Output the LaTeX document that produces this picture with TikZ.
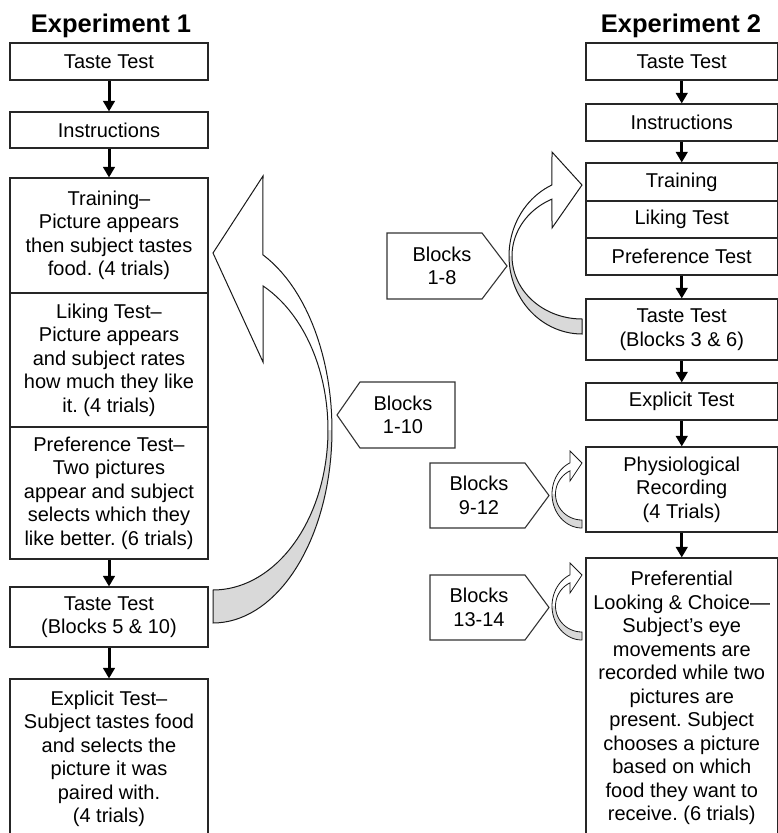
\documentclass[tikz,border=0pt]{standalone}
\usepackage{fontspec}
\setmainfont{Liberation Sans}
\usetikzlibrary{arrows.meta}
\newcommand\boxfont{\fontsize{20}{23.5}\selectfont}
\newcommand\titlefont{\fontsize{25.5}{30}\selectfont\bfseries}
\frenchspacing
\begin{document}
\begin{tikzpicture}[x=1pt,y=-1pt,
  box/.style={draw=black!85,line width=1.1pt,fill=white,inner sep=0pt,align=center,font=\boxfont},
  lbox/.style={box,minimum width=198pt},
  rbox/.style={box,minimum width=191.5pt},
  flow/.style={line width=3pt,-{Triangle[width=11.5pt,length=10.5pt]}},
  outl/.style={draw=black!90,line width=1pt,line join=miter},
  backfill/.style={fill=black!15},
  frontfill/.style={fill=white},
  tag/.style={draw=black!80,line width=1.1pt,fill=white},
  tagtext/.style={inner sep=0pt,align=center,font=\boxfont},
  title/.style={inner sep=0pt,font=\titlefont,anchor=base}]
\useasboundingbox (0,0) rectangle (778,833);
\fill[white] (0,0) rectangle (778,833);

\node[title] (t1) at (111,32) {Experiment 1};
\node[title] (t2) at (681,32) {Experiment 2};

% left column
\node[lbox,minimum height=37pt] (l1) at (109,61.5) {Taste Test};
\node[lbox,minimum height=36pt] (l2) at (109,130) {Instructions};
\node[lbox,minimum height=115pt] (l3) at (109,235.5) {Training–\\Picture appears\\then subject tastes\\food. (4 trials)};
\node[lbox,minimum height=134pt] (l4) at (109,360) {Liking Test–\\Picture appears\\and subject rates\\how much they like\\it. (4 trials)};
\node[lbox,minimum height=132pt] (l5) at (109,493) {Preference Test–\\Two pictures\\appear and subject\\selects which they\\like better. (6 trials)};
\node[lbox,minimum height=60pt] (l6) at (109,617) {Taste Test\\(Blocks 5 \& 10)};
\node[lbox,minimum height=160pt] (l7) at (109,759) {Explicit Test–\\Subject tastes food\\and selects the\\picture it was\\paired with.\\(4 trials)};

% right column
\node[rbox,minimum height=37pt] (r1) at (681.75,61.5) {Taste Test};
\node[rbox,minimum height=37pt] (r2) at (681.75,122.5) {Instructions};
\node[rbox,minimum height=38pt] (r3) at (681.75,182) {Training};
\node[rbox,minimum height=37pt] (r4) at (681.75,219.5) {Liking Test};
\node[rbox,minimum height=37pt] (r5) at (681.75,256.5) {Preference Test};
\node[rbox,minimum height=61pt] (r6) at (681.75,329.5) {Taste Test\\(Blocks 3 \& 6)};
\node[rbox,minimum height=37pt] (r7) at (681.75,401.5) {Explicit Test};
\node[rbox,minimum height=85pt] (r8) at (681.75,489.5) {Physiological\\Recording\\(4 Trials)};
\node[rbox,minimum height=280pt] (r9) at (681.75,698) {Preferential\\Looking \& Choice—\\Subject’s eye\\movements are\\recorded while two\\pictures are\\present. Subject\\chooses a picture\\based on which\\food they want to\\receive. (6 trials)};

\foreach \a/\b in {l1/l2,l2/l3,l5/l6,l6/l7,r1/r2,r2/r3,r5/r6,r6/r7,r7/r8,r8/r9}
  \draw[flow] (\a) -- (\b);

% big curved arrow (left)
\fill[backfill] plot[domain=0:90,samples=40] ({213+119*cos(\x)},{430+193*sin(\x)})
  -- plot[domain=90:0,samples=40] ({213+115*cos(\x)},{430+160*sin(\x)}) -- cycle;
\fill[frontfill] plot[domain=0:-65.2,samples=40] ({213+119*cos(\x)},{430+193*sin(\x)})
  -- (263,176) -- (213,253) -- (263,362)
  -- plot[domain=-64.2:0,samples=40] ({213+115*cos(\x)},{430+160*sin(\x)}) -- cycle;
\draw[outl] plot[domain=90:-65.2,samples=60] ({213+119*cos(\x)},{430+193*sin(\x)})
  -- (263,176) -- (213,253) -- (263,362)
  -- plot[domain=-64.2:90,samples=60] ({213+115*cos(\x)},{430+160*sin(\x)}) -- cycle;

% curved arrow blocks 1-8
\fill[backfill] plot[domain=90:180,samples=30] ({582+73*cos(\x)},{256+78*sin(\x)})
  -- plot[domain=180:90,samples=30] ({582+70*cos(\x)},{256+63*sin(\x)}) -- cycle;
\fill[frontfill] plot[domain=180:245.7,samples=30] ({582+73*cos(\x)},{256+78*sin(\x)})
  -- (552,152) -- (582,185) -- (552,228)
  -- plot[domain=244.6:180,samples=30] ({582+70*cos(\x)},{256+63*sin(\x)}) -- cycle;
\draw[outl] plot[domain=90:245.7,samples=50] ({582+73*cos(\x)},{256+78*sin(\x)})
  -- (552,152) -- (582,185) -- (552,228)
  -- plot[domain=244.6:90,samples=50] ({582+70*cos(\x)},{256+63*sin(\x)}) -- cycle;

% small curved arrows
\foreach \cy in {494,606}{
  \fill[backfill] plot[domain=90:180,samples=20] ({582+30*cos(\x)},{\cy+34*sin(\x)})
    -- plot[domain=180:90,samples=20] ({582+26.5*cos(\x)},{\cy+26*sin(\x)}) -- cycle;
  \fill[frontfill] plot[domain=180:246.4,samples=20] ({582+30*cos(\x)},{\cy+34*sin(\x)})
    -- (570,\cy-43) -- (582,\cy-31) -- (570,\cy-13)
    -- plot[domain=243.1:180,samples=20] ({582+26.5*cos(\x)},{\cy+26*sin(\x)}) -- cycle;
  \draw[outl,line width=0.8pt] plot[domain=90:246.4,samples=40] ({582+30*cos(\x)},{\cy+34*sin(\x)})
    -- (570,\cy-43) -- (582,\cy-31) -- (570,\cy-13)
    -- plot[domain=243.1:90,samples=40] ({582+26.5*cos(\x)},{\cy+26*sin(\x)}) -- cycle;
}

% block tags
\draw[tag] (337,415) -- (360,382) -- (455,382) -- (455,448) -- (360,448) -- cycle;
\node[tagtext] (b110) at (403,415) {Blocks\\1-10};
\draw[tag] (387,233) -- (482,233) -- (507,266) -- (482,299) -- (387,299) -- cycle;
\node[tagtext] (b18) at (442,266) {Blocks\\1-8};
\draw[tag] (430,463) -- (525,463) -- (549,495.5) -- (525,528) -- (430,528) -- cycle;
\node[tagtext] (b912) at (479,495.5) {Blocks\\9-12};
\draw[tag] (430,575) -- (525,575) -- (549,607.5) -- (525,640) -- (430,640) -- cycle;
\node[tagtext] (b1314) at (479,607.5) {Blocks\\13-14};
\end{tikzpicture}
\end{document}
